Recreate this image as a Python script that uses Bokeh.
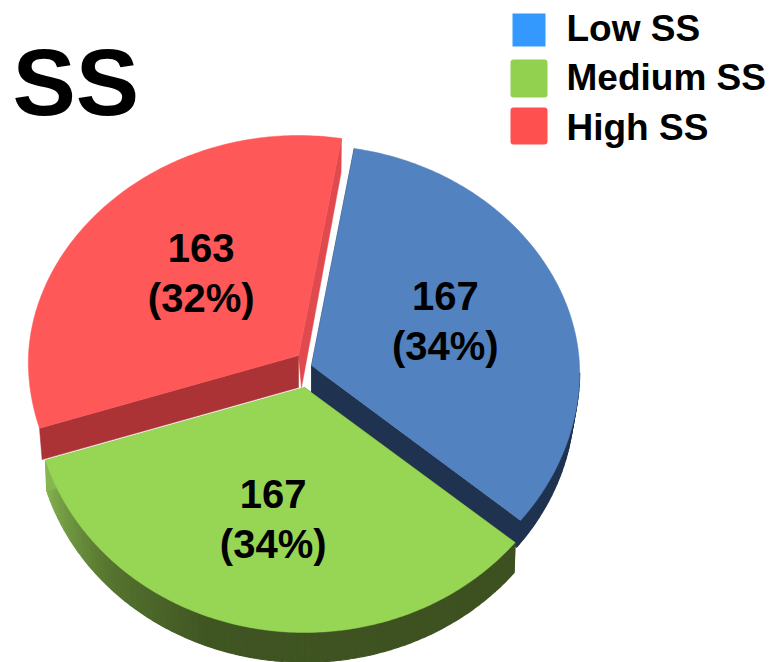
import numpy as np
from bokeh.core.properties import value
from bokeh.embed import file_html
from bokeh.models import ColumnDataSource, Range1d
from bokeh.plotting import figure
from bokeh.resources import INLINE

# Chart data
title = "SS"
categories = ["Low SS", "Medium SS", "High SS"]
counts = [167, 167, 163]
percent_labels = ["(34%)", "(34%)", "(32%)"]

# Colours per slice
legend_colors = ["#3399ff", "#92d050", "#ff5050"]
top_colors = ["#5282bf", "#97d555", "#ff5858"]
wall_stops = [
    [(0, "#1f3350"), (360, "#1f3350")],
    [(130, "#3d5020"), (200, "#3f5522"), (225, "#56752f"), (253, "#86b652")],
    [(0, "#e04a4e"), (360, "#e04a4e")],
]
start_cut_colors = ["#1f3350", "#3d5020", "#ab3335"]
end_cut_colors = ["#1f3350", "#86b652", "#e04a4e"]

# Projection of the tilted, exploded disc (page pixels, y grows downward)
START_DEG = 9.5
radii_x = [268.0, 270.0, 270.0]
RADIUS_BACK = 220.0
RADIUS_FRONT = 245.0
FRONT_CURVE = 1.06
PERSPECTIVE = 0.04
centers = [(311, 365), (304, 387), (298, 355)]
depths = [30, 31, 32]
apex_extra = [2, 0, 0]
end_cut_shift = [0, 0, 3]
bottom_scales = [0.98, 0.995, 0.99]
has_rim = [True, True, False]
LABEL_FONT = value("Liberation Sans")


def project(cx, cy, radius_x, theta_deg, k=1.0, dy=0.0):
    """Map a clockwise-from-top angle on the disc to page coordinates."""
    t = np.radians(theta_deg)
    c = np.cos(t)
    lift = np.where(c > 0, -c * RADIUS_BACK, np.abs(c) ** FRONT_CURVE * RADIUS_FRONT)
    widen = 1 + PERSPECTIVE * lift / RADIUS_FRONT
    return cx + k * radius_x * widen * np.sin(t), cy + dy + k * lift


def stop_color(stops, theta):
    angles = [s[0] for s in stops]
    rgb = np.array([[int(s[1][i:i + 2], 16) for i in (1, 3, 5)] for s in stops], dtype=float)
    mix = [np.interp(theta, angles, rgb[:, j]) for j in range(3)]
    return "#%02x%02x%02x" % tuple(int(round(v)) for v in mix)


shares = np.array(counts, dtype=float) / sum(counts)
edges = START_DEG + 360 * np.concatenate([[0], np.cumsum(shares)])

p = figure(
    width=771, height=662, output_backend="svg", toolbar_location=None,
    x_range=Range1d(0, 771), y_range=Range1d(662, 0),
    x_axis_type=None, y_axis_type=None, min_border=0,
    outline_line_color=None, background_fill_color="white",
)
p.grid.visible = False

# High first, then Low, then Medium, so nearer slices overlap the farther ones
for i in (2, 0, 1):
    cx, cy = centers[i]
    rx = radii_x[i]
    d = depths[i]
    k = bottom_scales[i]
    a0, a1 = edges[i], edges[i + 1]

    # rim on the front half, in short strips so its shade can change along the arc
    if has_rim[i]:
        rim_from, rim_to = max(a0, 92.0), min(a1, 268.0)
        xs, ys, cols = [], [], []
        for s in np.arange(rim_from, rim_to, 1.5):
            e = min(s + 1.5, rim_to)
            arc = np.linspace(s, e, 3)
            tx, ty = project(cx, cy, rx, arc)
            bx, by = project(cx, cy, rx, arc, k, d)
            xs.append(np.concatenate([tx, bx[::-1]]).tolist())
            ys.append(np.concatenate([ty, by[::-1]]).tolist())
            cols.append(stop_color(wall_stops[i], (s + e) / 2))
        p.patches("x", "y", source=ColumnDataSource(dict(x=xs, y=ys, c=cols)),
                  fill_color="c", line_color="c", line_width=1.2)

    # the two flat cut faces running in from the rim to the apex
    for ang, col, shift in ((a1, end_cut_colors[i], end_cut_shift[i]), (a0, start_cut_colors[i], 0)):
        ex, ey = project(cx, cy, rx, np.array([ang]))
        bx, by = project(cx, cy, rx, np.array([ang]), k, d)
        p.patch([cx, ex[0], bx[0], cx + shift], [cy, ey[0], by[0], cy + d + apex_extra[i]],
                fill_color=col, line_color=col, line_width=0.5)

    # top surface
    arc = np.linspace(a0, a1, 160)
    tx, ty = project(cx, cy, rx, arc)
    p.patch(np.concatenate([[cx], tx]), np.concatenate([[cy], ty]),
            fill_color=top_colors[i], line_color=top_colors[i], line_width=0.5)

# Value labels placed along each slice's middle direction
label_reach = [0.53, 0.55, 0.50]
label_nudge = [(2, -20), (-2, -16), (3, -26)]
LABEL_PITCH = 50
for i in range(3):
    mid = (edges[i] + edges[i + 1]) / 2
    cx, cy = centers[i]
    mx, my = project(cx, cy, radii_x[i], np.array([mid]), label_reach[i])
    lx = mx[0] + label_nudge[i][0]
    ly = my[0] + label_nudge[i][1]
    p.text([lx], [ly - 10], text=[str(counts[i])], text_align="center",
           text_baseline="alphabetic", text_font=LABEL_FONT, text_font_style="bold",
           text_font_size="40px", text_color="#000000")
    p.text([lx], [ly + LABEL_PITCH - 10], text=[percent_labels[i]], text_align="center",
           text_baseline="alphabetic", text_font=LABEL_FONT, text_font_style="bold",
           text_font_size="40px", text_color="#000000")

# Title
p.text([12], [81], text=[title], text_align="left", text_baseline="alphabetic",
       text_font=LABEL_FONT, text_font_style="bold", text_font_size="95px",
       text_color="#000000")

# Legend
swatch_boxes = [(512, 545, 13, 46), (510, 547, 59, 97), (510, 547, 107, 144)]
swatch_radius = [0, 3, 3]
legend_text_y = [27.5, 77, 126.5]
for i, name in enumerate(categories):
    l, r, t, b = swatch_boxes[i]
    p.quad(left=[l], right=[r], top=[t], bottom=[b], fill_color=legend_colors[i],
           line_color=None, border_radius=swatch_radius[i])
    p.text([566], [legend_text_y[i]], text=[name], text_align="left",
           text_baseline="alphabetic", text_font=LABEL_FONT, text_font_style="bold",
           text_font_size="37px", text_color="#000000")

open("out.html", "w").write(file_html(p, INLINE))
